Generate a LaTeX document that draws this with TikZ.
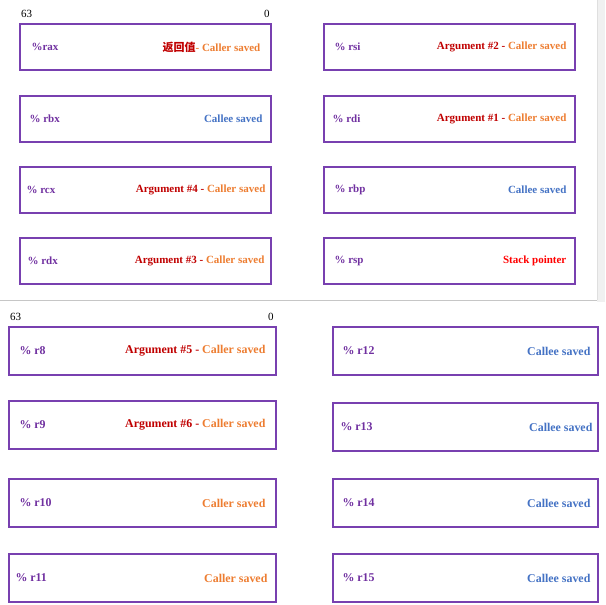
\documentclass[tikz,border=0pt]{standalone}
\usepackage{fontspec}
\setmainfont{Liberation Serif}
\newfontfamily\cjk{Noto Sans CJK SC}
\definecolor{regpurple}{HTML}{7030A0}
\definecolor{boxpurple}{HTML}{7840B0}
\definecolor{argred}{HTML}{C00000}
\definecolor{callerorange}{HTML}{ED7D31}
\definecolor{calleeblue}{HTML}{4472C4}
\definecolor{spred}{HTML}{FF0000}

\begin{document}
\begin{tikzpicture}[x=1pt,y=-1pt,
    reg/.style={draw=boxpurple, line width=1.9pt, minimum width=251pt, minimum height=46pt, inner sep=0pt, anchor=north west},
    wide/.style={reg, minimum width=267pt, minimum height=48pt},
    rname/.style={text=regpurple, font=\fontsize{11}{13}\selectfont\bfseries, anchor=west},
    rrole/.style={font=\fontsize{11}{13}\selectfont\bfseries, anchor=east},
    big/.style={font=\fontsize{11.9}{14}\selectfont\bfseries},
    bits/.style={font=\fontsize{11}{13}\selectfont, inner sep=1pt}]
    \useasboundingbox (0,0) rectangle (605,605);

    % Panel
    \fill[gray!12] (597,0) rectangle (605,302);
    \draw[gray!25, line width=0.8pt] (597,0) -- (597,300);
    \draw[gray!45, line width=0.8pt] (0,300.5) -- (597,300.5);

    % Top boxes
    \node[reg] (rax) at (19,23) {};
    \node[reg] (rbx) at (19,95) {};
    \node[reg] (rcx) at (19,166) {};
    \node[reg] (rdx) at (19,237) {};
    \node[reg] (rsi) at (323,23) {};
    \node[reg] (rdi) at (323,95) {};
    \node[reg] (rbp) at (323,166) {};
    \node[reg] (rsp) at (323,237) {};

    % Bottom boxes
    \node[wide] (r8)  at (8,326) {};
    \node[wide] (r9)  at (8,400) {};
    \node[wide] (r10) at (8,478) {};
    \node[wide] (r11) at (8,553) {};
    \node[wide, minimum width=265pt] (r12) at (332,326) {};
    \node[wide, minimum width=265pt] (r13) at (332,402) {};
    \node[wide, minimum width=265pt] (r14) at (332,478) {};
    \node[wide, minimum width=265pt] (r15) at (332,553) {};

    % Bit numbers
    \node[bits, anchor=south west] (hitop) at ([xshift=1pt,yshift=4pt]rax.north west) {63};
    \node[bits, anchor=south east] (lotop) at ([xshift=-1pt,yshift=4pt]rax.north east) {0};
    \node[bits, anchor=south west] (hibot) at ([xshift=1pt,yshift=4pt]r8.north west) {63};
    \node[bits, anchor=south east] (lobot) at ([xshift=-2pt,yshift=4pt]r8.north east) {0};

    % Names
    \node[rname] (raxname) at ([xshift=9pt]rax.west) {\%rax};
    \node[rname] (rbxname) at ([xshift=7pt]rbx.west) {\% rbx};
    \node[rname] (rcxname) at ([xshift=4pt]rcx.west) {\% rcx};
    \node[rname] (rdxname) at ([xshift=5pt]rdx.west) {\% rdx};
    \node[rname] (rsiname) at ([xshift=8pt]rsi.west) {\% rsi};
    \node[rname] (rdiname) at ([xshift=6pt]rdi.west) {\% rdi};
    \node[rname] (rbpname) at ([xshift=8pt]rbp.west) {\% rbp};
    \node[rname] (rspname) at ([xshift=8pt]rsp.west) {\% rsp};
    \node[rname, big] (r8name)  at ([xshift=8pt]r8.west) {\% r8};
    \node[rname, big] (r9name)  at ([xshift=8pt]r9.west) {\% r9};
    \node[rname, big] (r10name) at ([xshift=8pt]r10.west) {\% r10};
    \node[rname, big] (r11name) at ([xshift=4pt]r11.west) {\% r11};
    \node[rname, big] (r12name) at ([xshift=7pt]r12.west) {\% r12};
    \node[rname, big] (r13name) at ([xshift=5pt]r13.west) {\% r13};
    \node[rname, big] (r14name) at ([xshift=7pt]r14.west) {\% r14};
    \node[rname, big] (r15name) at ([xshift=7pt]r15.west) {\% r15};

    % Roles
    \node[rrole] (raxrole) at ([xshift=-8pt]rax.east) {{\color{argred}\cjk\bfseries 返回值}{\color{callerorange}- Caller saved}};
    \node[rrole] (rbxrole) at ([xshift=-6pt]rbx.east) {\color{calleeblue}Callee saved};
    \node[rrole] (rcxrole) at ([xshift=-3pt]rcx.east) {{\color{argred}Argument \#4 - }{\color{callerorange}Caller saved}};
    \node[rrole] (rdxrole) at ([xshift=-4pt]rdx.east) {{\color{argred}Argument \#3 - }{\color{callerorange}Caller saved}};
    \node[rrole] (rsirole) at ([xshift=-6pt]rsi.east) {{\color{argred}Argument \#2 - }{\color{callerorange}Caller saved}};
    \node[rrole] (rdirole) at ([xshift=-6pt]rdi.east) {{\color{argred}Argument \#1 - }{\color{callerorange}Caller saved}};
    \node[rrole] (rbprole) at ([xshift=-6pt]rbp.east) {\color{calleeblue}Callee saved};
    \node[rrole] (rsprole) at ([xshift=-6pt]rsp.east) {\color{spred}Stack pointer};
    \node[rrole, big] (r8role)  at ([xshift=-8pt]r8.east) {{\color{argred}Argument \#5 - }{\color{callerorange}Caller saved}};
    \node[rrole, big] (r9role)  at ([xshift=-8pt]r9.east) {{\color{argred}Argument \#6 - }{\color{callerorange}Caller saved}};
    \node[rrole, big] (r10role) at ([xshift=-8pt]r10.east) {\color{callerorange}Caller saved};
    \node[rrole, big] (r11role) at ([xshift=-6pt]r11.east) {\color{callerorange}Caller saved};
    \node[rrole, big] (r12role) at ([xshift=-5pt]r12.east) {\color{calleeblue}Callee saved};
    \node[rrole, big] (r13role) at ([xshift=-3pt]r13.east) {\color{calleeblue}Callee saved};
    \node[rrole, big] (r14role) at ([xshift=-5pt]r14.east) {\color{calleeblue}Callee saved};
    \node[rrole, big] (r15role) at ([xshift=-5pt]r15.east) {\color{calleeblue}Callee saved};

\end{tikzpicture}
\end{document}
